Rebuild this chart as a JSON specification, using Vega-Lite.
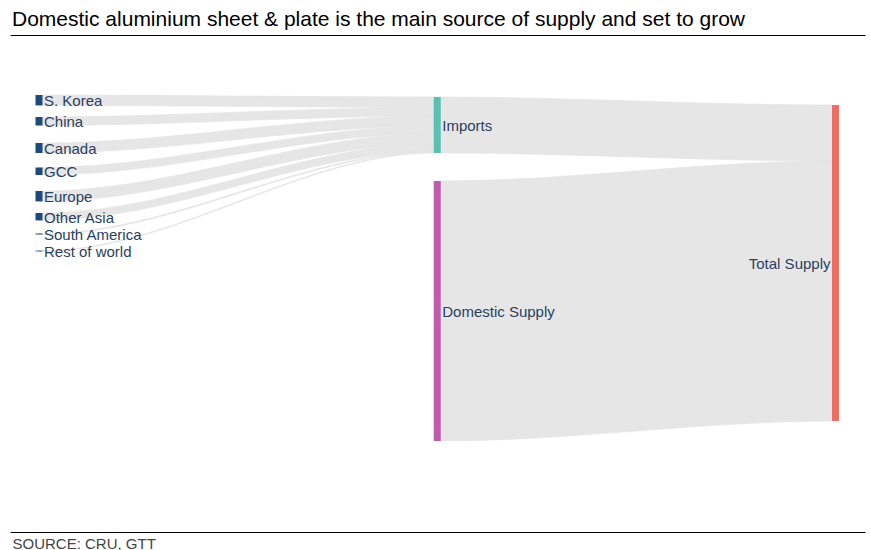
{
  "$schema": "https://vega.github.io/schema/vega-lite/v6.json",
  "width": 855,
  "height": 497,
  "autosize": {"type": "none"},
  "padding": {"left": 10, "right": 6, "top": 35, "bottom": 18},
  "background": "#ffffff",
  "config": {"view": {"stroke": null}},
  "title": {
    "text": "Domestic aluminium sheet & plate is the main source of supply and set to grow",
    "anchor": "start",
    "frame": "group",
    "font": "Arial",
    "fontSize": 21,
    "fontWeight": "normal",
    "color": "#000000",
    "baseline": "bottom",
    "offset": 6,
    "dx": 2,
    "dy": 22
  },
  "datasets": {
    "nodes": [
      {"node": "S. Korea", "type": "Source", "stage": 0, "top": 950, "bottom": 1054},
      {"node": "China", "type": "Source", "stage": 0, "top": 1170, "bottom": 1255},
      {"node": "Canada", "type": "Source", "stage": 0, "top": 1430, "bottom": 1530},
      {"node": "GCC", "type": "Source", "stage": 0, "top": 1675, "bottom": 1750},
      {"node": "Europe", "type": "Source", "stage": 0, "top": 1910, "bottom": 2014},
      {"node": "Other Asia", "type": "Source", "stage": 0, "top": 2130, "bottom": 2204},
      {"node": "South America", "type": "Source", "stage": 0, "top": 2335, "bottom": 2345},
      {"node": "Rest of world", "type": "Source", "stage": 0, "top": 2506, "bottom": 2514},
      {"node": "Imports", "type": "Imports", "stage": 1, "top": 970, "bottom": 1530},
      {"node": "Domestic Supply", "type": "Domestic Supply", "stage": 1, "top": 1810, "bottom": 4410},
      {"node": "Total Supply", "type": "Total Supply", "stage": 2, "top": 1050, "bottom": 4210}
    ],
    "links": [
      {"link": "S. Korea", "x": 0, "top": 950, "bottom": 1054},
      {"link": "S. Korea", "x": 0.008, "top": 950, "bottom": 1054},
      {"link": "S. Korea", "x": 0.992, "top": 970, "bottom": 1074},
      {"link": "S. Korea", "x": 1, "top": 970, "bottom": 1074},
      {"link": "China", "x": 0, "top": 1170, "bottom": 1255},
      {"link": "China", "x": 0.008, "top": 1170, "bottom": 1255},
      {"link": "China", "x": 0.992, "top": 1074, "bottom": 1159},
      {"link": "China", "x": 1, "top": 1074, "bottom": 1159},
      {"link": "Canada", "x": 0, "top": 1430, "bottom": 1530},
      {"link": "Canada", "x": 0.008, "top": 1430, "bottom": 1530},
      {"link": "Canada", "x": 0.992, "top": 1159, "bottom": 1259},
      {"link": "Canada", "x": 1, "top": 1159, "bottom": 1259},
      {"link": "GCC", "x": 0, "top": 1675, "bottom": 1750},
      {"link": "GCC", "x": 0.008, "top": 1675, "bottom": 1750},
      {"link": "GCC", "x": 0.992, "top": 1259, "bottom": 1334},
      {"link": "GCC", "x": 1, "top": 1259, "bottom": 1334},
      {"link": "Europe", "x": 0, "top": 1910, "bottom": 2014},
      {"link": "Europe", "x": 0.008, "top": 1910, "bottom": 2014},
      {"link": "Europe", "x": 0.992, "top": 1334, "bottom": 1438},
      {"link": "Europe", "x": 1, "top": 1334, "bottom": 1438},
      {"link": "Other Asia", "x": 0, "top": 2130, "bottom": 2204},
      {"link": "Other Asia", "x": 0.008, "top": 2130, "bottom": 2204},
      {"link": "Other Asia", "x": 0.992, "top": 1438, "bottom": 1512},
      {"link": "Other Asia", "x": 1, "top": 1438, "bottom": 1512},
      {"link": "South America", "x": 0, "top": 2335, "bottom": 2345},
      {"link": "South America", "x": 0.008, "top": 2335, "bottom": 2345},
      {"link": "South America", "x": 0.992, "top": 1512, "bottom": 1522},
      {"link": "South America", "x": 1, "top": 1512, "bottom": 1522},
      {"link": "Rest of world", "x": 0, "top": 2506, "bottom": 2514},
      {"link": "Rest of world", "x": 0.008, "top": 2506, "bottom": 2514},
      {"link": "Rest of world", "x": 0.992, "top": 1522, "bottom": 1530},
      {"link": "Rest of world", "x": 1, "top": 1522, "bottom": 1530},
      {"link": "Imports", "x": 1, "top": 970, "bottom": 1530},
      {"link": "Imports", "x": 1.008, "top": 970, "bottom": 1530},
      {"link": "Imports", "x": 1.992, "top": 1050, "bottom": 1610},
      {"link": "Imports", "x": 2, "top": 1050, "bottom": 1610},
      {"link": "Domestic Supply", "x": 1, "top": 1810, "bottom": 4410},
      {"link": "Domestic Supply", "x": 1.008, "top": 1810, "bottom": 4410},
      {"link": "Domestic Supply", "x": 1.992, "top": 1610, "bottom": 4210},
      {"link": "Domestic Supply", "x": 2, "top": 1610, "bottom": 4210}
    ]
  },
  "resolve": {"axis": {"x": "independent"}},
  "layer": [
    {
      "data": {"name": "links"},
      "mark": {"type": "area", "interpolate": "monotone", "color": "#e6e6e6", "opacity": 1, "stroke": "#e2e2e2", "strokeWidth": 0.6},
      "encoding": {
        "x": {
          "field": "x", "type": "quantitative",
          "scale": {"domain": [-0.0728, 2.0741], "nice": false, "zero": false},
          "axis": {
            "orient": "bottom", "domain": true, "domainColor": "#000000", "domainWidth": 1,
            "ticks": false, "labels": false, "grid": false,
            "title": "SOURCE: CRU, GTT", "titleFont": "Arial", "titleFontSize": 15,
            "titleFontWeight": "normal", "titleColor": "#444444",
            "titleAnchor": "start", "titleAlign": "left", "titleBaseline": "top",
            "titleX": 2, "titleY": 4
          }
        },
        "y": {
          "field": "top", "type": "quantitative",
          "scale": {"domain": [350, 5320], "reverse": true, "nice": false, "zero": false},
          "axis": null
        },
        "y2": {"field": "bottom"},
        "detail": {"field": "link"}
      }
    },
    {
      "data": {"name": "nodes"},
      "mark": {"type": "rule", "strokeWidth": 7, "strokeCap": "butt"},
      "encoding": {
        "x": {
          "field": "stage", "type": "quantitative",
          "axis": {
            "orient": "top", "domain": true, "domainColor": "#000000", "domainWidth": 1,
            "ticks": false, "labels": false, "grid": false, "title": null
          }
        },
        "y": {"field": "top", "type": "quantitative"},
        "y2": {"field": "bottom"},
        "color": {
          "field": "type", "type": "nominal",
          "scale": {
            "domain": ["Source", "Imports", "Domestic Supply", "Total Supply"],
            "range": ["#1c4a7a", "#5bc0b4", "#c05aab", "#ef6c63"]
          },
          "legend": null
        }
      }
    },
    {
      "data": {"name": "nodes"},
      "transform": [
        {"filter": "datum.stage < 2"},
        {"calculate": "(datum.top + datum.bottom) / 2", "as": "mid"}
      ],
      "mark": {"type": "text", "align": "left", "baseline": "middle", "dx": 5, "dy": 1, "font": "Arial", "fontSize": 15, "color": "#2a3f5f"},
      "encoding": {
        "x": {"field": "stage", "type": "quantitative", "axis": null},
        "y": {"field": "mid", "type": "quantitative"},
        "text": {"field": "node"}
      }
    },
    {
      "data": {"name": "nodes"},
      "transform": [
        {"filter": "datum.stage == 2"},
        {"calculate": "(datum.top + datum.bottom) / 2", "as": "mid"}
      ],
      "mark": {"type": "text", "align": "right", "baseline": "middle", "dx": -5, "dy": 1, "font": "Arial", "fontSize": 15, "color": "#2a3f5f"},
      "encoding": {
        "x": {"field": "stage", "type": "quantitative", "axis": null},
        "y": {"field": "mid", "type": "quantitative"},
        "text": {"field": "node"}
      }
    }
  ]
}
